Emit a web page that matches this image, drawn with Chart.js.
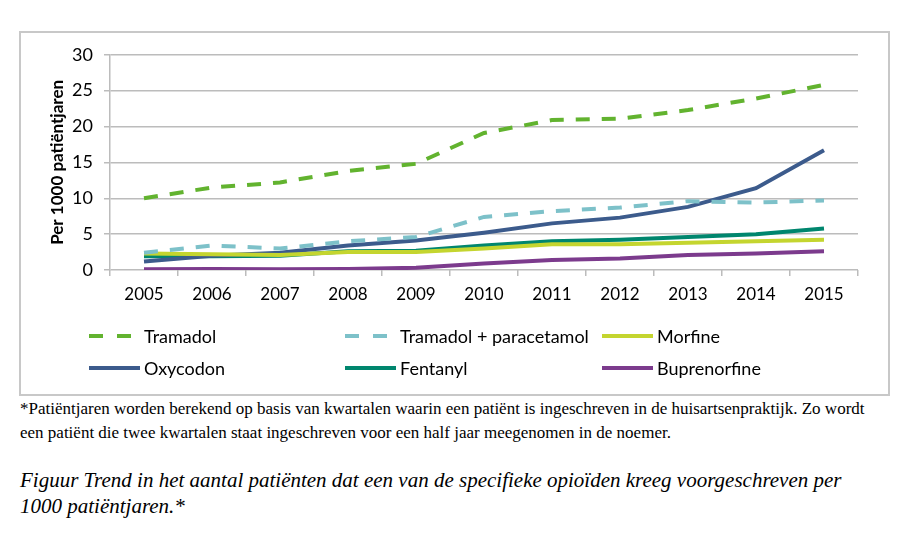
<!DOCTYPE html>
<html>
<head>
<meta charset="utf-8">
<script src="https://cdn.jsdelivr.net/npm/chart.js@4"></script>
<style>
  html, body { margin: 0; padding: 0; background: #fff; }
  body { width: 900px; height: 550px; position: relative; overflow: hidden; }
  #box { position: absolute; left: 19px; top: 31px; width: 871px; height: 365px;
         border: 2px solid #c8c8c8; box-sizing: border-box; }
  #box canvas { position: absolute; left: 0; top: 0; }
  .note { position: absolute; left: 20px; font-family: "Liberation Serif", serif;
          white-space: nowrap; color: #000; }
</style>
</head>
<body>
<div id="box"><canvas id="chart" width="867" height="361"></canvas></div>
<div class="note" style="top:397px;font-size:17px;line-height:24px;">*Patiëntjaren worden berekend op basis van kwartalen waarin een patiënt is ingeschreven in de huisartsenpraktijk. Zo wordt<br>een patiënt die twee kwartalen staat ingeschreven voor een half jaar meegenomen in de noemer.</div>
<div class="note" style="top:467px;font-size:21px;line-height:26px;font-style:italic;">Figuur Trend in het aantal patiënten dat een van de specifieke opioïden kreeg voorgeschreven per<br>1000 patiëntjaren.*</div>
<script>
const years = ["2005", "2006", "2007", "2008", "2009", "2010", "2011", "2012", "2013", "2014", "2015"];
const tramadol = [10.0, 11.5, 12.2, 13.8, 14.8, 19.1, 20.9, 21.1, 22.3, 23.9, 25.8];
const tramadolParacetamol = [2.4, 3.4, 3.0, 4.0, 4.6, 7.4, 8.2, 8.7, 9.6, 9.4, 9.7];
const morfine = [2.3, 2.2, 2.1, 2.5, 2.5, 3.0, 3.6, 3.6, 3.8, 4.0, 4.2];
const oxycodon = [1.2, 2.0, 2.4, 3.4, 4.1, 5.2, 6.5, 7.3, 8.8, 11.4, 16.7];
const fentanyl = [1.9, 1.9, 2.0, 2.6, 2.7, 3.4, 4.0, 4.2, 4.6, 5.0, 5.8];
const buprenorfine = [0.1, 0.15, 0.1, 0.15, 0.3, 0.9, 1.4, 1.6, 2.1, 2.3, 2.6];
const yTicks = [0, 5, 10, 15, 20, 25, 30];

const FONT = "Lato, 'Open Sans', sans-serif";

function line(label, data, color, dash) {
  return {
    label: label, data: data, borderColor: color, backgroundColor: color,
    borderWidth: 4, borderDash: dash || [], pointRadius: 0, tension: 0,
    borderCapStyle: "butt", fill: false
  };
}

// legend in three columns, two rows, like the original
const gridLegend = {
  id: "gridLegend",
  afterDraw(chart) {
    const ctx = chart.ctx;
    const cols = [68, 324, 581];
    const rows = [303, 335];
    ctx.save();
    ctx.font = "18px " + FONT;
    ctx.textBaseline = "middle";
    chart.data.datasets.forEach((ds, i) => {
      const x = cols[i % 3], y = rows[Math.floor(i / 3)];
      ctx.strokeStyle = ds.borderColor;
      ctx.lineWidth = 4;
      ctx.setLineDash(ds.borderDash.length ? [14, 14] : []);
      ctx.beginPath();
      ctx.moveTo(x, y);
      ctx.lineTo(x + 51, y);
      ctx.stroke();
      ctx.fillStyle = "#000";
      ctx.fillText(ds.label, x + 55, y + 1);
    });
    ctx.restore();
  }
};

new Chart(document.getElementById("chart"), {
  type: "line",
  data: {
    labels: years,
    datasets: [
      line("Tramadol", tramadol, "#62b32f", [14, 12]),
      line("Tramadol + paracetamol", tramadolParacetamol, "#7dc1c9", [14, 12]),
      line("Morfine", morfine, "#c4d52f"),
      line("Oxycodon", oxycodon, "#3c5b8c"),
      line("Fentanyl", fentanyl, "#00866e"),
      line("Buprenorfine", buprenorfine, "#7c3b8d")
    ]
  },
  options: {
    responsive: false,
    animation: false,
    layout: { padding: { top: 20, right: 30, left: 0, bottom: 0 } },
    plugins: { legend: { display: false }, tooltip: { enabled: false } },
    scales: {
      x: {
        offset: true,
        grid: { offset: true, drawOnChartArea: false, drawTicks: true, tickLength: 6, color: "#bcbcbc", lineWidth: 1.5 },
        border: { display: false },
        ticks: { color: "#000", font: { family: FONT, size: 17 }, padding: 8, maxRotation: 0 },
        afterFit(s) { s.height = 124; }
      },
      y: {
        min: 0, max: 30,
        afterBuildTicks(s) { s.ticks = yTicks.map(v => ({ value: v })); },
        grid: { color: "#bcbcbc", lineWidth: 1.5, tickLength: 6 },
        border: { color: "#bcbcbc", width: 1.5 },
        ticks: { color: "#000", font: { family: FONT, size: 18 }, padding: 11 },
        title: { display: true, text: "Per 1000 patiëntjaren", color: "#000",
                 font: { family: FONT, size: 17, weight: "bold" }, padding: { top: 26, bottom: 4 } },
        afterFit(s) { s.width = 89; }
      }
    }
  },
  plugins: [gridLegend]
});
</script>
</body>
</html>
